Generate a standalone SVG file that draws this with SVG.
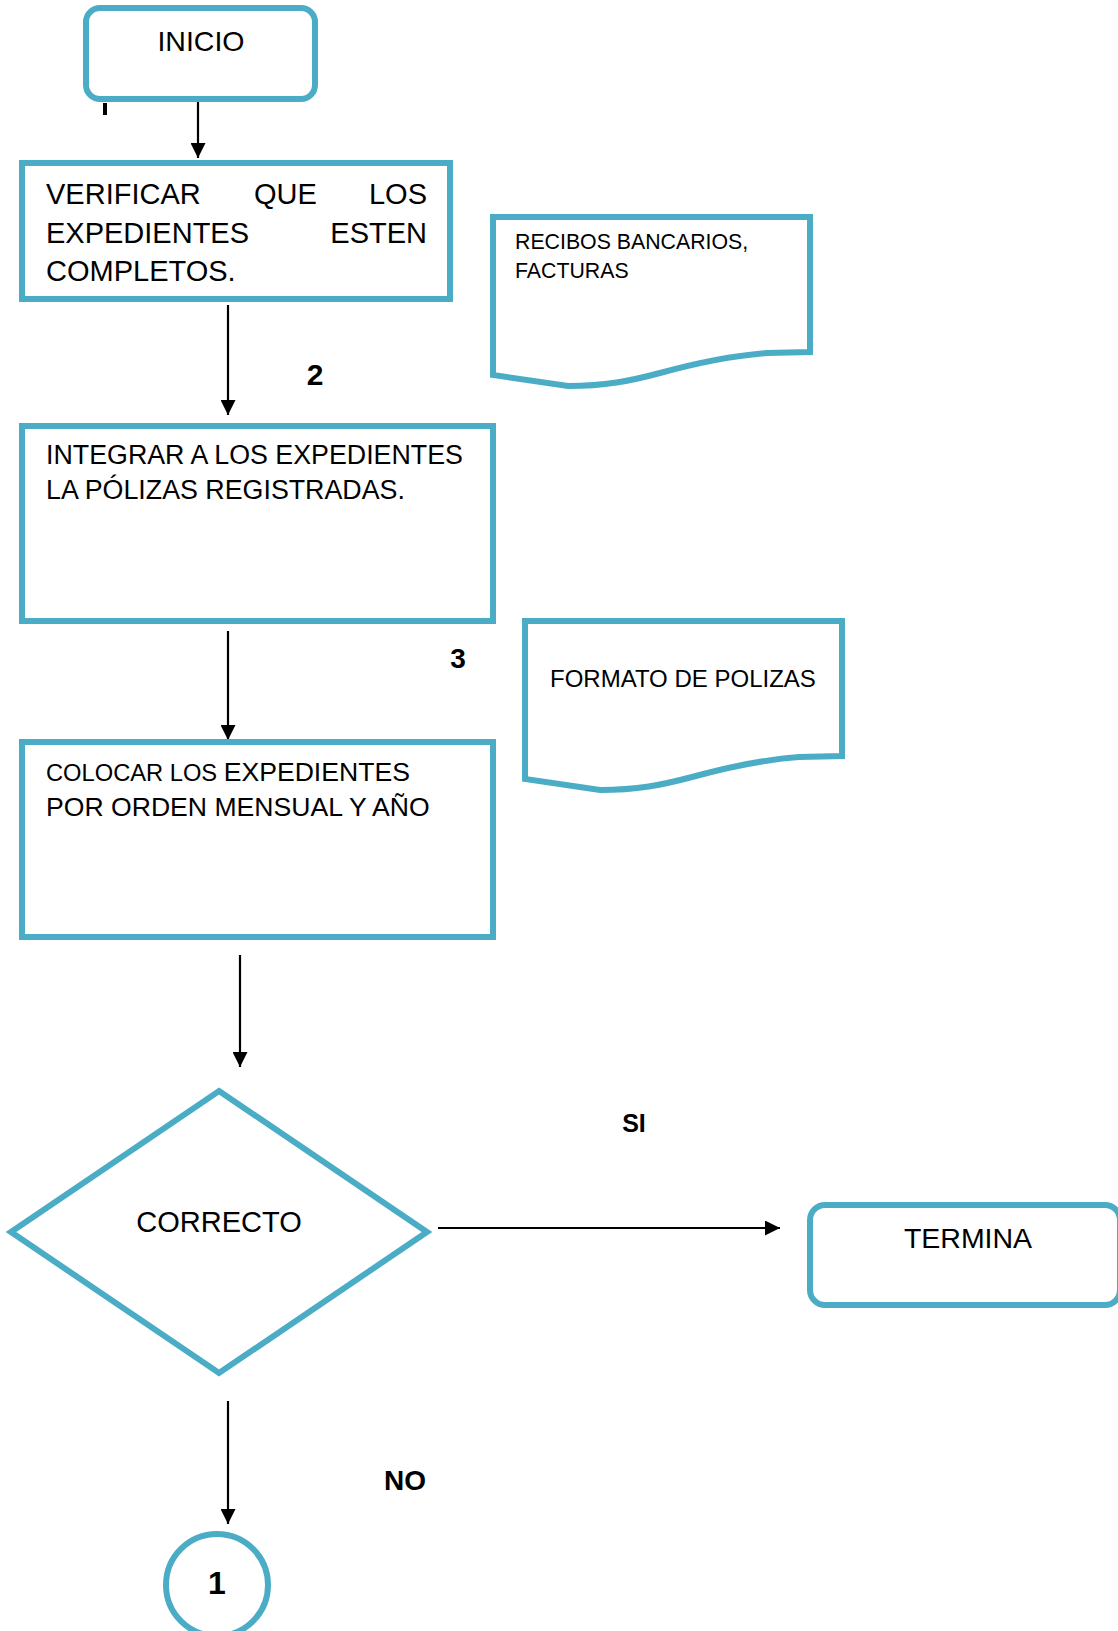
<svg xmlns="http://www.w3.org/2000/svg" width="1118" height="1631" viewBox="0 0 1118 1631">
<style>
.box{fill:#ffffff;stroke:#4BACC6;stroke-width:6;stroke-linejoin:miter}
.t{font-family:"Liberation Sans",Arial,sans-serif;fill:#000000}
.b{font-weight:bold}
.c{text-anchor:middle}
.e{text-anchor:end}
.con{stroke:#000000;stroke-width:2.2;fill:none}
</style>
<defs>
<marker id="ah" markerUnits="userSpaceOnUse" markerWidth="15" markerHeight="15" refX="15" refY="7.5" orient="auto">
<path d="M0,0 L15,7.5 L0,15 Z" fill="#000000"/>
</marker>
</defs>
<rect width="1118" height="1631" fill="#ffffff"/>
<rect x="103" y="103" width="4" height="12" fill="#000000"/>

<g id="connectors">
<line class="con" x1="198" y1="100" x2="198" y2="158" marker-end="url(#ah)"/>
<line class="con" x1="228" y1="305" x2="228" y2="415" marker-end="url(#ah)"/>
<line class="con" x1="228" y1="631" x2="228" y2="740" marker-end="url(#ah)"/>
<line class="con" x1="240" y1="955" x2="240" y2="1067" marker-end="url(#ah)"/>
<line class="con" x1="438" y1="1228" x2="780" y2="1228" marker-end="url(#ah)"/>
<line class="con" x1="228" y1="1401" x2="228" y2="1524" marker-end="url(#ah)"/>
</g>

<g id="inicio">
<rect class="box" x="86" y="8" width="229" height="91" rx="14"/>
<text class="t c" x="201" y="51" font-size="28.5">INICIO</text>
</g>

<g id="verificar">
<rect class="box" x="22" y="163" width="428" height="136"/>
<text class="t" x="46" y="204" font-size="29">VERIFICAR</text>
<text class="t" x="254" y="204" font-size="29">QUE</text>
<text class="t e" x="427" y="204" font-size="29">LOS</text>
<text class="t" x="46" y="243" font-size="29">EXPEDIENTES</text>
<text class="t e" x="427" y="243" font-size="29">ESTEN</text>
<text class="t" x="46" y="281" font-size="29">COMPLETOS.</text>
</g>

<g id="recibos">
<path class="box" d="M493,217 H810 V352 L767,353 C740,355 700,362 660,373 C630,381 605,386 568,386 L493,375 Z"/>
<text class="t" x="515" y="249" font-size="21.3">RECIBOS BANCARIOS,</text>
<text class="t" x="515" y="278" font-size="21.3">FACTURAS</text>
</g>

<g id="label2">
<text class="t b c" x="315" y="385" font-size="30">2</text>
</g>

<g id="integrar">
<rect class="box" x="22" y="426" width="471" height="195"/>
<text class="t" x="46" y="464" font-size="26.8">INTEGRAR A LOS EXPEDIENTES</text>
<text class="t" x="46" y="499" font-size="26.8">LA PÓLIZAS REGISTRADAS.</text>
</g>

<g id="label3">
<text class="t b c" x="458" y="668" font-size="28">3</text>
</g>

<g id="formato">
<path class="box" transform="translate(32,404)" d="M493,217 H810 V352 L767,353 C740,355 700,362 660,373 C630,381 605,386 568,386 L493,375 Z"/>
<text class="t" x="550" y="687" font-size="24">FORMATO DE POLIZAS</text>
</g>

<g id="colocar">
<rect class="box" x="22" y="742" width="471" height="195"/>
<text class="t" x="46" y="781" font-size="23.7">COLOCAR LOS <tspan font-size="26.6">EXPEDIENTES</tspan></text>
<text class="t" x="46" y="816" font-size="26.6">POR ORDEN MENSUAL Y AÑO</text>
</g>

<g id="correcto">
<polygon class="box" points="219,1091 427,1232 219,1373 11,1232"/>
<text class="t c" x="219" y="1232" font-size="29">CORRECTO</text>
</g>

<g id="label-si">
<text class="t b c" x="634" y="1132" font-size="25">SI</text>
</g>

<g id="termina">
<rect class="box" x="810" y="1205" width="310" height="100" rx="15"/>
<text class="t c" x="968" y="1248" font-size="28.5">TERMINA</text>
</g>

<g id="label-no">
<text class="t b c" x="405" y="1490" font-size="28">NO</text>
</g>

<g id="conector1">
<circle class="box" cx="217" cy="1585" r="51"/>
<text class="t b c" x="217" y="1594" font-size="32">1</text>
</g>
</svg>
